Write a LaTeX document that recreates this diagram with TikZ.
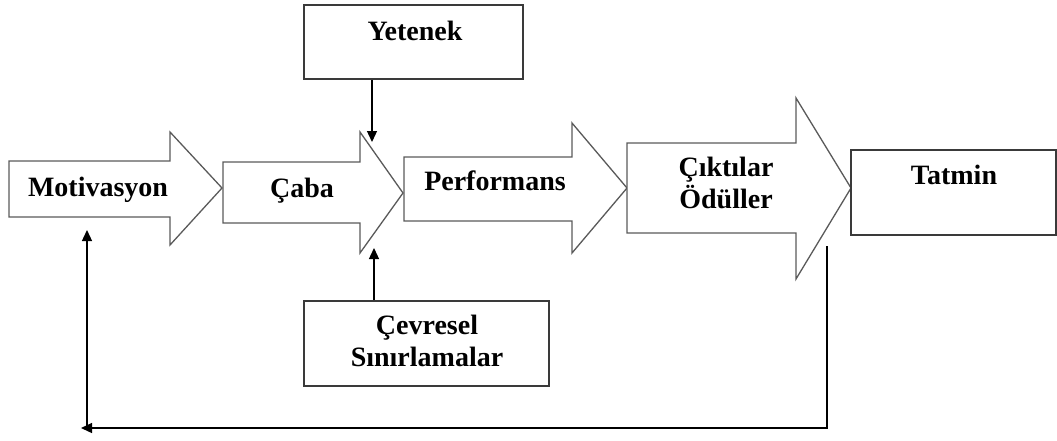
\documentclass[tikz,border=0pt]{standalone}
\usepackage{fontspec}
\setmainfont{Liberation Serif}
\usetikzlibrary{arrows.meta}
\definecolor{arrowgray}{HTML}{5A5A5A}
\definecolor{boxgray}{HTML}{3A3A3A}
\tikzset{
  blockarrow/.style={draw=arrowgray, line width=1.3pt, fill=white, line join=miter},
  framebox/.style={draw=boxgray, line width=1.8pt, fill=white, rectangle, inner sep=0pt},
  lbl/.style={font=\bfseries\fontsize{28}{32}\selectfont, text=black, anchor=base, inner sep=0pt, align=center},
  conn/.style={draw=black, line width=1.3pt, -{Triangle[length=11pt,width=10pt]}}
}
\begin{document}
\begin{tikzpicture}[x=1pt,y=-1pt]
\useasboundingbox (0,0) rectangle (1057,440);
% block arrows
\draw[blockarrow] (9,161) -- (170,161) -- (170,132) -- (222,188) -- (170,245) -- (170,217) -- (9,217) -- cycle;
\draw[blockarrow] (223,162) -- (360,162) -- (360,132) -- (403,193) -- (360,253) -- (360,223) -- (223,223) -- cycle;
\draw[blockarrow] (404,157) -- (572,157) -- (572,123) -- (627,188) -- (572,253) -- (572,221) -- (404,221) -- cycle;
\draw[blockarrow] (627,143) -- (796,143) -- (796,98) -- (851,188) -- (796,279) -- (796,233) -- (627,233) -- cycle;
% boxes
\node[framebox, minimum width=205pt, minimum height=85pt] (tatbox) at (953.5,192.5) {};
\node[framebox, minimum width=219pt, minimum height=74pt] (yetbox) at (413.5,42) {};
\node[framebox, minimum width=245pt, minimum height=85pt] (cevbox) at (426.5,343.5) {};
% labels
\node[lbl] (mot) at (98,196) {Motivasyon};
\node[lbl] (caba) at (302,197) {Çaba};
\node[lbl] (perf) at (495,190) {Performans};
\node[lbl] (cikt) at (726,208) {Çıktılar\\Ödüller};
\node[lbl] (tat) at (954,184) {Tatmin};
\node[lbl] (yet) at (415,40) {Yetenek};
\node[lbl] (cev) at (427,366) {Çevresel\\Sınırlamalar};
% connectors
\coordinate (yettip) at (372,142);
\coordinate (cevtip) at (374,248);
\draw[conn] (yettip |- yetbox.south) -- (yettip);
\draw[conn] (cevtip |- cevbox.north) -- (cevtip);
\coordinate (fbtop) at (827,246);
\coordinate (fbleft) at (81,428);
\coordinate (fbup) at (87,230);
\draw[conn] (fbtop) |- (fbleft);
\draw[conn] (fbup |- fbleft) -- (fbup);
\end{tikzpicture}
\end{document}
